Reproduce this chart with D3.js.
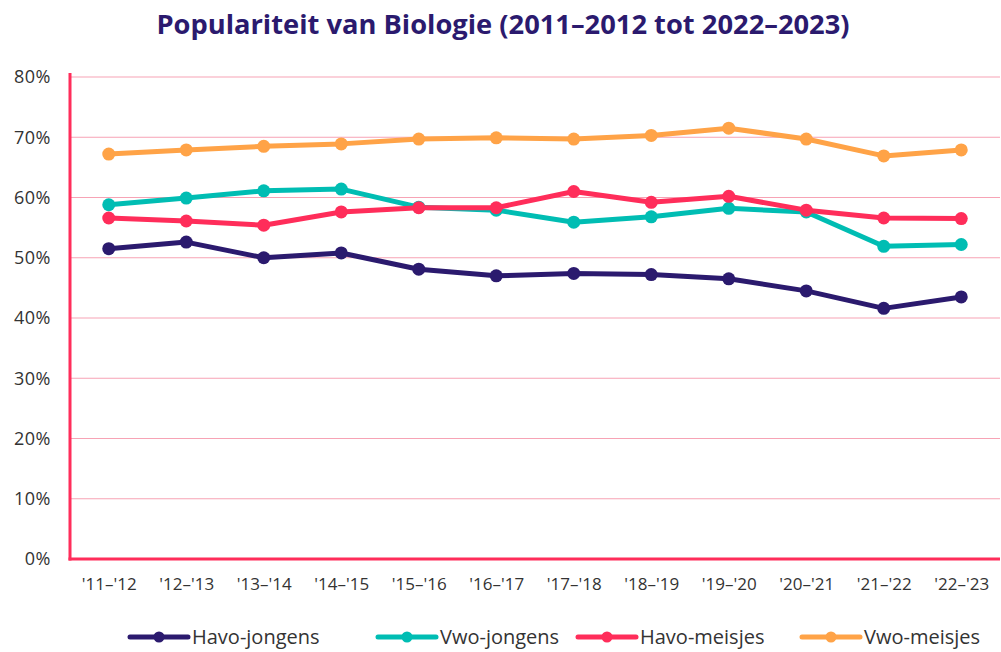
<!DOCTYPE html>
<html><head><meta charset="utf-8">
<script src="https://cdn.jsdelivr.net/npm/d3@7"></script>
<style>body{margin:0;background:#fff;}svg{display:block;}</style>
</head><body>
<svg id="c" width="1001" height="652"></svg>
<script>
const categories = ["'11–'12","'12–'13","'13–'14","'14–'15","'15–'16","'16–'17","'17–'18","'18–'19","'19–'20","'20–'21","'21–'22","'22–'23"];
const havoJongens = [51.5,52.6,50.0,50.8,48.1,47.0,47.4,47.2,46.5,44.5,41.6,43.5];
const vwoJongens  = [58.8,59.9,61.1,61.4,58.4,57.9,55.9,56.8,58.2,57.6,51.9,52.2];
const havoMeisjes = [56.6,56.1,55.4,57.6,58.3,58.3,61.0,59.2,60.2,57.9,56.6,56.5];
const vwoMeisjes  = [67.2,67.9,68.5,68.9,69.7,69.9,69.7,70.3,71.5,69.7,66.9,67.9];
const seriesNames = ["Havo-jongens","Vwo-jongens","Havo-meisjes","Vwo-meisjes"];
const yTicks = [0,10,20,30,40,50,60,70,80];

const colors = ["#2b1a6e","#00bdb3","#ff2d5a","#ffa347"];
const series = [havoJongens, vwoJongens, havoMeisjes, vwoMeisjes].map((v,i)=>({name:seriesNames[i], values:v, color:colors[i]}));

const svg = d3.select("#c");
const L=70, R=1000, T=77, B=559;
const x = d3.scalePoint().domain(categories).range([L,R]).padding(0.5);
const y = d3.scaleLinear().domain([0,80]).range([B,T]);
const font = "'Open Sans', Lato, sans-serif";

svg.append("text").attr("x",503).attr("y",34).attr("text-anchor","middle")
  .attr("font-family",font).attr("font-weight",700).attr("font-size",27.3)
  .attr("fill","#2b1a6e").text("Populariteit van Biologie (2011–2012 tot 2022–2023)");

// grid
svg.append("g").selectAll("line").data(yTicks.filter(d=>d>0)).join("line")
  .attr("x1",L).attr("x2",R).attr("y1",d=>y(d)).attr("y2",d=>y(d))
  .attr("stroke","#f7a3b5").attr("stroke-width",1);

// y axis labels
const yAxis = d3.axisLeft(y).tickValues(yTicks).tickFormat(d=>d+"%").tickSize(0).tickPadding(19);
const gy = svg.append("g").attr("transform",`translate(${L},0)`).call(yAxis);
gy.select(".domain").remove();
gy.selectAll("text").attr("font-family",font).attr("font-size",18).attr("fill","#333").attr("letter-spacing",0.5);

// x axis labels
const xAxis = d3.axisBottom(x).tickSize(0).tickPadding(19);
const gx = svg.append("g").attr("transform",`translate(0,${B})`).call(xAxis);
gx.select(".domain").remove();
gx.selectAll("text").attr("font-family",font).attr("font-size",17).attr("fill","#333");

// axis lines
svg.append("line").attr("x1",L).attr("x2",L).attr("y1",73).attr("y2",B+1.5).attr("stroke","#ff2d5a").attr("stroke-width",3);
svg.append("line").attr("x1",L-1.5).attr("x2",R).attr("y1",B).attr("y2",B).attr("stroke","#ff2d5a").attr("stroke-width",3);

const line = d3.line().x((d,i)=>x(categories[i])).y(d=>y(d));
series.forEach(s=>{
  const g = svg.append("g");
  g.append("path").attr("d",line(s.values)).attr("fill","none").attr("stroke",s.color).attr("stroke-width",5).attr("stroke-linejoin","round");
  g.selectAll("circle").data(s.values).join("circle")
    .attr("cx",(d,i)=>x(categories[i])).attr("cy",d=>y(d)).attr("r",6.5).attr("fill",s.color);
});

// legend
const legX = [130,378,578,802];
const lg = svg.append("g");
series.forEach((s,i)=>{
  const g = lg.append("g").attr("transform",`translate(${legX[i]},637)`);
  g.append("line").attr("x1",0).attr("x2",58).attr("y1",0).attr("y2",0).attr("stroke",s.color).attr("stroke-width",5).attr("stroke-linecap","round");
  g.append("circle").attr("cx",29).attr("cy",0).attr("r",5.5).attr("fill",s.color);
  g.append("text").attr("x",62).attr("y",7).attr("font-family",font).attr("font-size",20).attr("fill","#333").text(s.name);
});
</script>
</body></html>
